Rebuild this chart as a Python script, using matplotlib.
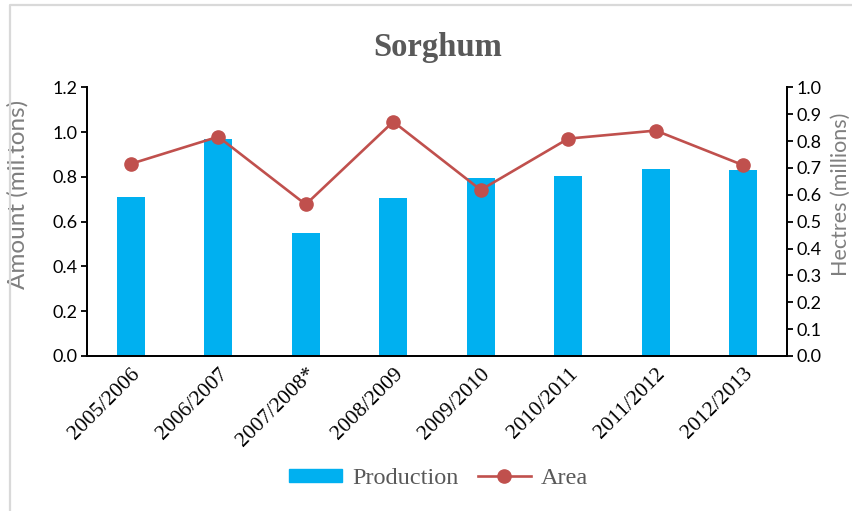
import matplotlib
matplotlib.use("Agg")
import matplotlib.pyplot as plt
from matplotlib.lines import Line2D
from matplotlib.patches import Patch

seasons = ["2005/2006", "2006/2007", "2007/2008*", "2008/2009", "2009/2010",
           "2010/2011", "2011/2012", "2012/2013"]
production = [0.709, 0.968, 0.548, 0.706, 0.796, 0.804, 0.837, 0.831]   # mil. tons
area = [0.715, 0.816, 0.564, 0.872, 0.618, 0.809, 0.839, 0.710]         # mil. hectares

bar_color = "#00B0F0"
line_color = "#C0504D"
sans = "Lato"
serif = "Liberation Serif"
plt.rcParams["font.family"] = [serif]

fig = plt.figure(figsize=(8.53, 5.11), dpi=100)
ax = fig.add_axes([87 / 853, 1 - 356 / 511, 700 / 853, 268.7 / 511])
ax2 = ax.twinx()

x = list(range(len(seasons)))
ax.bar(x, production, width=0.32, color=bar_color, zorder=2)
ax2.plot(x, area, color=line_color, lw=1.9, marker="o", markersize=9.5, zorder=3)

ax.set_xlim(-0.5, len(seasons) - 0.5)
ax.set_ylim(0, 1.2)
ax.set_yticks([0, 0.2, 0.4, 0.6, 0.8, 1.0, 1.2])
ax.set_yticklabels([f"{v:.1f}" for v in ax.get_yticks()])
ax2.set_ylim(0, 1.0)
ax2.set_yticks([i / 10 for i in range(11)])
ax2.set_yticklabels([f"{i / 10:.1f}" for i in range(11)])

ax.set_xticks(x)
ax.set_xticklabels(seasons, rotation=45, ha="right", rotation_mode="anchor")
ax.tick_params(axis="x", length=0, pad=6, labelsize=15.5)
ax.tick_params(axis="y", direction="out", length=4, width=1.3, labelsize=13, pad=3)
ax2.tick_params(axis="y", direction="out", length=4, width=1.3, labelsize=13, pad=3)
for lab in ax.get_yticklabels() + ax2.get_yticklabels():
    lab.set_fontfamily(sans)

for a in (ax, ax2):
    a.spines["top"].set_visible(False)
    for s in ("left", "right", "bottom"):
        a.spines[s].set_linewidth(1.3)
        a.spines[s].set_color("black")
    a.set_facecolor("none")

ax.set_ylabel("Amount (mil.tons)", fontfamily=sans, fontsize=17.5, color="#7f7f7f")
ax.yaxis.set_label_coords(-0.083, 0.6)
ax2.set_ylabel("Hectres (millions)", fontfamily=sans, fontsize=15.5, color="#7f7f7f")
ax2.yaxis.set_label_coords(1.063, 0.6)

fig.text(0.513, 0.908, "Sorghum", ha="center", va="center",
         fontweight="bold", fontsize=23.5, color="#595959")

handles = [Patch(color=bar_color, label="Production"),
           Line2D([], [], color=line_color, lw=1.9, marker="o", markersize=9.5, label="Area")]
fig.legend(handles=handles, loc="center", bbox_to_anchor=(0.514, 0.064), ncol=2,
           frameon=False, prop={"size": 17.5}, labelcolor="#595959",
           handlelength=2.2, handleheight=0.45, columnspacing=0.8, handletextpad=0.4)

# light grey chart border (top and left visible)
fig.add_artist(Line2D([9.5 / 853, 9.5 / 853, 1], [0, 1 - 5.5 / 511, 1 - 5.5 / 511],
                      transform=fig.transFigure, color="#d9d9d9", lw=1.6))

fig.savefig("out.png", dpi=100)
